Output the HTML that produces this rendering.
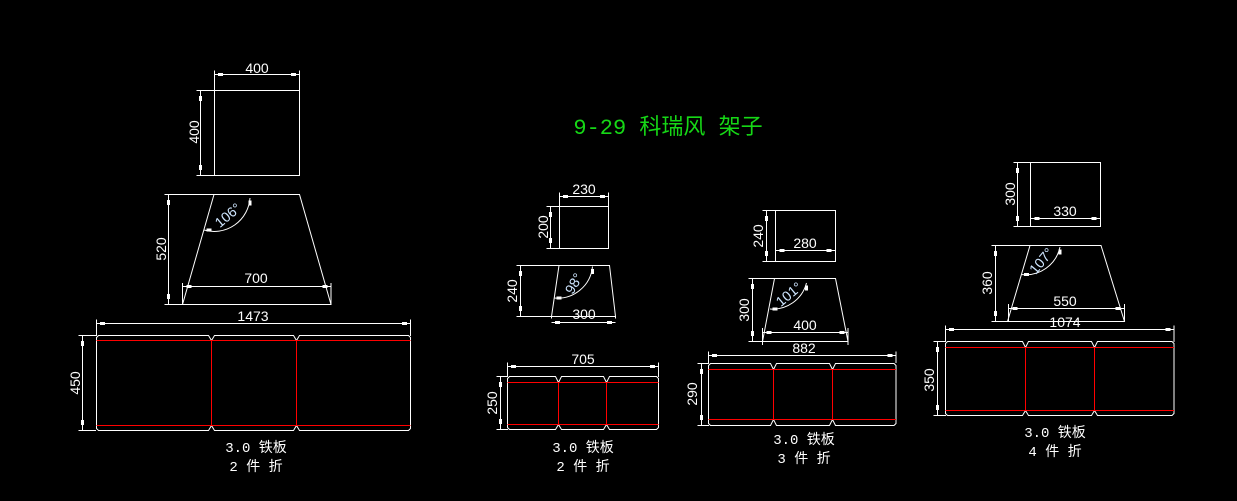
<!DOCTYPE html>
<html><head><meta charset="utf-8"><style>
html,body{margin:0;padding:0;background:#000;width:1237px;height:501px;overflow:hidden}
svg{display:block}
text{font-family:"Liberation Sans","Noto Sans CJK SC",sans-serif;fill:#fff;font-size:14px}
.m{font-family:"Liberation Mono","Noto Sans CJK SC",monospace;font-size:14px}
</style></head><body>
<svg id="s" width="1237" height="501" viewBox="0 0 1237 501" xmlns="http://www.w3.org/2000/svg">
<g id="g" stroke="#fff" stroke-width="1" fill="none"></g>
<text x="668" y="134" text-anchor="middle" style="font-family:'Liberation Mono','Noto Sans CJK SC',monospace;font-size:22px;fill:#16d816">9-29 科瑞风 架子</text>

<text x="257" y="73" text-anchor="middle">400</text>
<text transform="translate(199,132) rotate(-90)" text-anchor="middle">400</text>
<text transform="translate(166,249) rotate(-90)" text-anchor="middle">520</text>
<text x="256" y="283" text-anchor="middle">700</text>
<text transform="translate(231,219) rotate(-40)" text-anchor="middle" style="fill:#cfe6ff">106°</text>
<text x="253" y="321" text-anchor="middle">1473</text>
<text transform="translate(80,383) rotate(-90)" text-anchor="middle">450</text>
<text class="m" x="256" y="452" text-anchor="middle">3.0 铁板</text>
<text class="m" x="256" y="471" text-anchor="middle">2 件 折</text>

<text x="584" y="194" text-anchor="middle">230</text>
<text transform="translate(548,227) rotate(-90)" text-anchor="middle">200</text>
<text transform="translate(517,291) rotate(-90)" text-anchor="middle">240</text>
<text x="584" y="319" text-anchor="middle">300</text>
<text transform="translate(578,286) rotate(-60)" text-anchor="middle" style="fill:#cfe6ff">98°</text>
<text x="583" y="364" text-anchor="middle">705</text>
<text transform="translate(497,403) rotate(-90)" text-anchor="middle">250</text>
<text class="m" x="583" y="452" text-anchor="middle">3.0 铁板</text>
<text class="m" x="583" y="471" text-anchor="middle">2 件 折</text>

<text x="805" y="248" text-anchor="middle">280</text>
<text transform="translate(763,236) rotate(-90)" text-anchor="middle">240</text>
<text transform="translate(749,310) rotate(-90)" text-anchor="middle">300</text>
<text x="805" y="330" text-anchor="middle">400</text>
<text transform="translate(792,298) rotate(-40)" text-anchor="middle" style="fill:#cfe6ff">101°</text>
<text x="804" y="353" text-anchor="middle">882</text>
<text transform="translate(697,394) rotate(-90)" text-anchor="middle">290</text>
<text class="m" x="804" y="444" text-anchor="middle">3.0 铁板</text>
<text class="m" x="804" y="463" text-anchor="middle">3 件 折</text>

<text x="1065" y="216" text-anchor="middle">330</text>
<text transform="translate(1015,194) rotate(-90)" text-anchor="middle">300</text>
<text transform="translate(992,283) rotate(-90)" text-anchor="middle">360</text>
<text x="1065" y="306" text-anchor="middle">550</text>
<text transform="translate(1045,264) rotate(-50)" text-anchor="middle" style="fill:#cfe6ff">107°</text>
<text x="1065" y="327" text-anchor="middle">1074</text>
<text transform="translate(934,380) rotate(-90)" text-anchor="middle">350</text>
<text class="m" x="1055" y="437" text-anchor="middle">3.0 铁板</text>
<text class="m" x="1055" y="456" text-anchor="middle">4 件 折</text>
</svg>
<script>
var g=document.getElementById('g'),NS='http://www.w3.org/2000/svg';
function el(t,a){var e=document.createElementNS(NS,t);for(var k in a)e.setAttribute(k,a[k]);g.appendChild(e);return e;}
function L(x1,y1,x2,y2,c){el('line',{x1:x1,y1:y1,x2:x2,y2:y2,stroke:c||'#fff'});}
function R(x,y,w,h){el('rect',{x:x-w/2,y:y-h/2,width:w,height:h,fill:'#fff',stroke:'none'});}
function hd(x1,x2,y,ey){L(x1,y,x2,y);L(x1,y-4,x1,ey);L(x2,y-4,x2,ey);R(x1+6,y,5,3);R(x2-6,y,5,3);}
function vd(x,y1,y2,ex){L(x,y1,x,y2);L(x-4,y1,ex,y1);L(x-4,y2,ex,y2);R(x,y1+8,3,5);R(x,y2-8,3,5);}
function rect(x0,y0,x1,y1){el('rect',{x:x0,y:y0,width:x1-x0,height:y1-y0});}
function trap(tl,tr,t,bl,br,b){el('polygon',{points:tl+','+t+' '+tr+','+t+' '+br+','+b+' '+bl+','+b});}
function arc(cx,cy,r,p1,p2){el('path',{d:'M'+p1[0]+','+p1[1]+' A'+r+','+r+' 0 0 0 '+p2[0]+','+p2[1]});R(p1[0]+5,p1[1],5,3);R(p2[0],p2[1]+5,3,5);}
function flat(x0,x1,t,b,r1,r2,f){
 var d='M'+x0+','+(t+2)+' L'+(x0+2)+','+t;
 f.forEach(function(x){d+=' L'+(x-3)+','+t+' L'+x+','+r1+' L'+(x+3)+','+t;});
 d+=' L'+(x1-2)+','+t+' L'+x1+','+(t+2)+' L'+x1+','+(b-2)+' L'+(x1-2)+','+b;
 f.slice().reverse().forEach(function(x){d+=' L'+(x+3)+','+b+' L'+x+','+r2+' L'+(x-3)+','+b;});
 d+=' L'+(x0+2)+','+b+' L'+x0+','+(b-2)+' Z';
 el('path',{d:d});
 L(x0,r1,x1,r1,'#f00');L(x0,r2,x1,r2,'#f00');
 f.forEach(function(x){L(x,r1,x,r2,'#f00');});
}
rect(214.5,90.5,299.5,175.5);hd(214.5,299.5,74.5,90);vd(200.5,90.5,175.5,214);
trap(214,299.5,194.5,182.5,331,304.5);vd(168.5,194.5,304.5,214);
L(182.5,283,182.5,304);L(331,283,331,304);L(182.5,286.5,331,286.5);R(189,286.5,5,3);R(325,286.5,5,3);
arc(214,195,36,[204,230],[250,198]);
hd(96.5,410.5,323.5,336);vd(82.5,335.5,430.5,96);
flat(96.5,410.5,335.5,430.5,340.5,425.5,[211.5,296.5]);
rect(559.5,206.5,608.5,248.5);hd(559.5,608.5,196.5,206);vd(550.5,206.5,248.5,559);
trap(559,609.5,265.5,551.5,615.5,316.5);vd(520.5,265.5,316.5,559);hd(551.5,615.5,322.5,316);
arc(559,265,35,[554,298],[592.5,266.5]);
hd(507.5,658.5,366.5,377);vd(500.5,376.5,429.5,508);
flat(507.5,658.5,376.5,429.5,382.5,424.5,[558.5,606.5]);
rect(775.5,210.5,835.5,261.5);L(775.5,250.5,835.5,250.5);R(782,250.5,5,3);R(829,250.5,5,3);vd(766.5,210.5,261.5,775);
trap(774.5,835.5,278.5,762.5,848,341.5);vd(752.5,278.5,341.5,774);
L(762.5,328,762.5,345);L(848,328,848,345);L(762.5,332.5,848,332.5);R(769,332.5,5,3);R(842,332.5,5,3);
arc(774.5,278.5,35,[770,309],[806.5,283]);
hd(708.5,896,355.5,363);vd(701.5,363.5,425.5,709);
flat(708.5,896,363.5,425.5,369.5,419.5,[773.5,832.5]);
rect(1030.5,162.5,1100.5,226.5);L(1030.5,218.5,1100.5,218.5);R(1037,218.5,5,3);R(1094,218.5,5,3);vd(1017.5,162.5,226.5,1030);
trap(1030,1101,245.5,1007.5,1124.5,321.5);vd(995.5,245.5,321.5,1030);
L(1008.5,304,1008.5,321);L(1124.5,304,1124.5,321);L(1008.5,308.5,1124.5,308.5);R(1015,308.5,5,3);R(1118,308.5,5,3);
arc(1030,245.5,35,[1021.5,274.5],[1060,247]);
hd(945.5,1174,329.5,342);vd(937.5,341.5,415.5,946);
flat(945.5,1174,341.5,415.5,347.5,410.5,[1025.5,1094.5]);
</script>
</body></html>
